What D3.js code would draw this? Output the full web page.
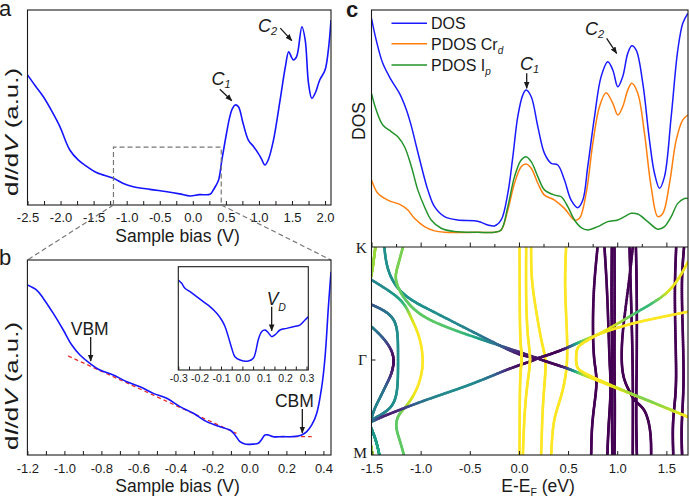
<!DOCTYPE html>
<html><head><meta charset="utf-8">
<script src="https://cdn.jsdelivr.net/npm/d3@7"></script>
<style>body{margin:0;background:#fff}svg{display:block}</style>
</head><body><svg id="fig" width="690" height="498"></svg>
<script>
// ---------------- DATA ----------------
// panel a: full-range STS spectrum
const aBias=[-2.5,-2.38,-2.26,-2.13,-2.01,-1.86,-1.73,-1.60,-1.45,-1.20,-1.05,-0.90,-0.65,-0.39,-0.2,-0.04,0.1,0.26,0.31,0.35,0.39,0.44,0.51,0.56,0.60,0.64,0.69,0.76,0.84,0.92,0.99,1.04,1.09,1.14,1.22,1.32,1.40,1.45,1.49,1.52,1.57,1.65,1.70,1.75,1.80,1.85,1.92,2.00,2.05,2.09];
const aDidv=[66.7,61,55.5,48,40.2,28.2,23,19.7,16.5,13.7,11,9.4,8.0,6.8,5.7,4.6,5.3,5.5,7.7,10,12.8,23.1,36.8,45.3,49.5,51.3,50.4,41.9,33.3,29.9,26.5,23.5,20.5,23.1,33.3,53.8,70.9,78.6,76,74.4,76.1,91.4,84.6,62.4,54.7,57.3,64.1,69.2,79.5,94.9];
const aTicks=[-2.5,-2,-1.5,-1,-0.5,0,0.5,1,1.5,2];
const aMinor=[-2.25,-1.75,-1.25,-0.75,-0.25,0.25,0.75,1.25,1.75];
const zoomBox=[-1.2,0.43,29.7];
// panel b: zoomed STS
const bBias=[-1.2,-1.15,-1.114,-1.06,-1.006,-0.96,-0.916,-0.862,-0.808,-0.736,-0.663,-0.591,-0.519,-0.447,-0.375,-0.303,-0.231,-0.159,-0.105,-0.078,-0.051,-0.024,0.021,0.048,0.066,0.084,0.102,0.129,0.183,0.237,0.283,0.31,0.337,0.364,0.391,0.409,0.427,0.441];
const bDidv=[87.2,84.6,80.3,72.6,64.1,56.4,51.3,47.0,43.6,41.0,37.6,35.0,31.6,29.1,24.8,21.4,17.1,14.5,12.8,10.3,6.8,5.6,5.6,6.0,8.0,10.3,10.3,9.4,9.4,9.4,10.3,12.0,15.4,21.4,35.0,50.4,76.1,94.0];
const bTicks=[-1.2,-1.0,-0.8,-0.6,-0.4,-0.2,0,0.2,0.4];
const bMinor=[-1.1,-0.9,-0.7,-0.5,-0.3,-0.1,0.1,0.3];
const fitVbmBias=[-0.98,-0.07], fitVbmDidv=[50.8,11.1];
const fitCbmBias=[0.128,0.337], fitCbmDidv=[9.4,9.4];
const vbmPoint=[-0.858,47.7], cbmPoint=[0.286,10.8];
// inset
const iBias=[-0.3,-0.284,-0.269,-0.245,-0.214,-0.183,-0.152,-0.120,-0.097,-0.081,-0.066,-0.050,-0.035,-0.011,0.028,0.051,0.064,0.074,0.090,0.106,0.121,0.137,0.152,0.176,0.207,0.238,0.269,0.293,0.308];
const iDidv=[87.1,83.9,79.1,75.8,71.0,66.1,61.3,54.9,48.4,41.9,32.3,21.0,12.9,9.7,8.7,11.3,19.4,29.0,37.1,38.7,36.1,32.3,33.9,38.7,40.3,41.9,43.5,48.4,51.6];
const iTicks=[-0.3,-0.2,-0.1,0,0.1,0.2,0.3];
const iMinor=[-0.25,-0.15,-0.05,0.05,0.15,0.25];
const vdPoint=[0.137,37.1];
// panel c: DOS
const dosE=[-1.5,-1.452,-1.385,-1.30,-1.215,-1.147,-1.096,-1.045,-0.994,-0.927,-0.859,-0.757,-0.622,-0.452,-0.384,-0.317,-0.249,-0.181,-0.113,-0.062,-0.012,0.039,0.073,0.125,0.192,0.260,0.328,0.395,0.463,0.531,0.599,0.650,0.700,0.769,0.836,0.904,0.955,1.006,1.056,1.107,1.148,1.193,1.26,1.328,1.379,1.430,1.481,1.549,1.616,1.667,1.718];
const dosVal=[96.5,87.3,77.5,70.5,64.8,58.1,51.2,42.7,34.3,24.1,17.0,12.8,11.4,11.1,10.4,9.3,8.9,11.4,22.7,38.1,55.0,64.1,66.2,63.4,50.8,39.5,35.3,34.6,28.3,19.8,16.6,19.8,33.9,55.0,71.9,78.2,74.7,67.6,71.9,81.7,84.9,83.1,69.1,45.1,31.1,24.8,29.7,55.0,83.1,94.4,98.6];
const crE=[-1.5,-1.436,-1.334,-1.198,-1.130,-1.063,-0.961,-0.859,-0.757,-0.418,-0.249,-0.181,-0.113,-0.045,0.023,0.073,0.125,0.192,0.260,0.362,0.463,0.565,0.616,0.684,0.752,0.819,0.887,0.955,1.006,1.056,1.107,1.148,1.209,1.277,1.345,1.413,1.464,1.532,1.600,1.667,1.718];
const crVal=[28.3,22.7,19.8,17.7,15.6,12.1,8.6,6.8,6.2,6.2,6.2,7.2,15.6,26.9,33.9,35.0,33.2,26.9,21.9,19.8,16.3,11.4,12.1,22.7,43.8,59.2,65.1,60.6,55.7,59.2,66.2,69.1,64.9,48.0,25.4,12.8,14.2,26.9,45.1,53.6,55.7];
const ipE=[-1.5,-1.452,-1.385,-1.30,-1.232,-1.164,-1.096,-1.029,-0.961,-0.893,-0.791,-0.656,-0.418,-0.249,-0.181,-0.113,-0.045,0.023,0.073,0.125,0.192,0.260,0.362,0.430,0.497,0.565,0.633,0.700,0.802,0.904,1.006,1.074,1.142,1.209,1.311,1.413,1.481,1.549,1.616,1.684,1.718];
const ipVal=[64.8,57.8,51.5,48.7,46.5,42.3,34.2,24.1,17.0,11.4,7.9,6.5,6.2,6.2,7.2,17.0,29.7,36.7,38.1,36.0,29.7,24.1,21.9,21.2,17.0,11.4,8.2,7.2,8.6,10.7,11.4,12.8,14.2,13.9,10.7,7.5,8.6,12.8,18.4,20.5,20.5];
const legendNames=["DOS","PDOS Cr","PDOS I"], legendSubs=["","d","p"];
const eTicks=[-1.5,-1,-0.5,0,0.5,1,1.5];
const eMinor=[-1.25,-0.75,-0.25,0.25,0.75,1.25];
const c1Point=[0.079,67.0], c2Point=[0.994,81.7];
const aC1Point=[0.59,53.5], aC2Point=[1.497,84.3];
// band structure: each band = list of [k (0=K,1=Γ,2=M), E (eV), projection weight]
const kLabels=["K","Γ","M"], kPos=[0,1,2];
const bands=[
 [[0,-1.46,0.85],[0.1,-1.475,0.85],[0.2,-1.49,0.85],[0.28,-1.51,0.85]],
 [[2.0,-1.42,0.6],[1.9,-1.44,0.6],[1.8,-1.47,0.55],[1.7,-1.51,0.5]],
 [[2.0,-1.49,0.85],[1.88,-1.51,0.85]],
 [[0.51,-1.5,0.25],[0.56,-1.37,0.35],[0.63,-1.27,0.45],[0.75,-1.23,0.5],[0.985,-1.23,0.5],[1.3,-1.23,0.5],[1.47,-1.27,0.5],[1.56,-1.37,0.45],[1.63,-1.5,0.4]],
 [[0.705,-1.5,0.45],[0.81,-1.37,0.3],[0.93,-1.28,0.05],[1.035,-1.27,0.0],[1.16,-1.3,0.1],[1.26,-1.35,0.3],[1.37,-1.4,0.4],[1.51,-1.47,0.45],[1.61,-1.5,0.45]],
 [[0.29,-1.5,0.45],[0.425,-1.25,0.5],[0.52,-1.15,0.7],[0.63,-1.096,0.95],[0.78,-1.012,1],[0.99,-0.968,1],[1.19,-0.995,1],[1.37,-1.063,1],[1.51,-1.164,0.85],[1.58,-1.232,0.75],[1.7,-1.26,0.75],[1.85,-1.21,0.75],[2.0,-1.17,0.75]],
 [[0,-1.37,0.5],[0.16,-1.35,0.5],[0.3,-1.29,0.5],[0.4,-1.2,0.5],[0.48,-1.08,0.5],[0.56,-0.9,0.5],[0.76,-0.45,0.45],[0.87,-0.2,0.3],[0.96,0.01,0.0],[0.985,0.19,0.05]],
 [[0,-1.18,0.8],[0.16,-1.23,0.8],[0.28,-1.27,0.8],[0.42,-1.2,0.75],[0.55,-1.08,0.75],[0.66,-0.9,0.75],[0.8,-0.45,0.7],[0.91,-0.06,0.1],[0.985,0.19,0.05]],
 [[1.65,-1.5,0.45],[1.6,-1.4,0.05],[1.52,-1.2,0.1],[1.42,-0.95,0.45],[1.3,-0.6,0.5],[1.18,-0.3,0.45],[1.09,-0.1,0.05],[1.03,0.08,0.0],[0.985,0.19,0.05]],
 [[0,0.006,1],[0.5,0.008,1],[0.85,0.012,1],[0.985,0.035,1],[1.12,0.012,1],[1.5,0.008,1],[2.0,0.006,1]],
 [[0,0.074,1],[0.4,0.07,1],[0.8,0.085,1],[0.985,0.125,1],[1.2,0.09,1],[1.55,0.055,1],[2.0,0.04,1]],
 [[0,0.124,1],[0.28,0.124,1],[0.57,0.175,1],[0.87,0.235,1],[0.985,0.277,1],[1.2,0.265,1],[1.5,0.24,1],[2.0,0.226,1]],
 [[0,0.48,1],[0.3,0.465,1],[0.6,0.48,1],[0.985,0.5,1],[1.26,0.463,1],[1.45,0.41,1],[1.65,0.345,1],[2.0,0.328,1]],
 [[0,0.8,0],[0.35,0.76,0],[0.7,0.75,0],[1.0,0.76,0],[1.2,0.8,0],[1.45,0.77,0],[1.7,0.74,0],[2,0.735,0]],
 [[0,0.87,0],[0.4,0.9,0],[1.0,0.92,0],[1.3,0.94,0],[1.7,0.91,0],[2.0,0.9,0]],
 [[0,0.945,0],[0.5,0.94,0],[1.0,0.95,0],[1.5,0.945,0],[2.0,0.95,0]],
 [[0,0.972,0],[0.5,0.975,0],[1.0,0.97,0],[1.5,0.978,0],[2.0,0.972,0]],
 [[0,1.158,0],[0.28,1.125,0],[0.72,1.056,0],[0.96,1.04,0],[1.19,1.056,0],[1.33,1.125,0],[1.44,1.176,0],[1.51,1.29,0],[1.76,1.345,0],[2.0,1.345,0]],
 [[0,1.125,0],[0.5,1.142,0],[1.0,1.158,0],[1.5,1.16,0],[2.0,1.158,0]],
 [[0,1.19,0],[0.4,1.2,0],[1.0,1.2,0],[1.6,1.19,0],[2.0,1.2,0]],
 [[0,1.6,0],[0.4,1.58,0],[1.0,1.6,0],[1.35,1.6,0],[1.65,1.56,0],[2.0,1.57,0]],
 [[0,1.68,0],[0.3,1.65,0],[0.8,1.67,0],[1.3,1.68,0],[1.7,1.65,0],[2.0,1.66,0]],
 [[0.985,0.19,0.05],[0.94,0.35,0.0],[0.89,0.5,0.0],[0.84,0.616,0.9],[0.72,0.955,1],[0.646,1.295,1],[0.573,1.72,1]],
 [[0.985,0.19,0.05],[1.04,0.35,0.0],[1.09,0.5,0.05],[1.14,0.616,1],[1.28,0.955,1],[1.42,1.295,1],[1.6,1.72,1]],
 [[0.13,1.72,1],[0.277,1.633,0.95],[0.425,1.498,1],[0.528,1.295,0.5],[0.705,0.955,1],[0.84,0.66,1],[0.89,0.585,1],[0.985,0.58,1],[1.08,0.585,1],[1.13,0.64,1],[1.28,0.965,1],[1.42,1.3,0.7],[1.6,1.725,1]]
];

// ---------------- DRAWING ----------------
const FONT='"Liberation Sans", Arial, Helvetica, sans-serif';
const SERIF='"Liberation Serif","Times New Roman",serif';
const INK='#1a1a1a';
const svg=d3.select('#fig');
const defs=svg.append('defs');
defs.append('marker').attr('id','arr').attr('viewBox','0 0 10 10').attr('refX',9).attr('refY',5)
  .attr('markerUnits','userSpaceOnUse').attr('markerWidth',7).attr('markerHeight',7).attr('orient','auto')
  .append('path').attr('d','M0,1 L10,5 L0,9 Z').attr('fill',INK);
function clip(id,x0,y0,x1,y1){defs.append('clipPath').attr('id',id).append('rect').attr('x',x0).attr('y',y0).attr('width',x1-x0).attr('height',y1-y0);}

function axisB(scale,y,ticks,minor,o){
  if(minor){const gm=svg.append('g').attr('transform',`translate(0,${y})`)
    .call(d3.axisBottom(scale).tickValues(minor).tickSizeInner(-o.minorLen).tickSizeOuter(0).tickFormat(''));
    gm.select('.domain').remove(); gm.selectAll('text').remove(); gm.selectAll('line').attr('stroke',INK);}
  const g=svg.append('g').attr('transform',`translate(0,${y})`)
    .call(d3.axisBottom(scale).tickValues(ticks).tickSizeInner(-o.majorLen).tickSizeOuter(0).tickPadding(o.pad)
      .tickFormat(o.noLabels?'':(d=>d.toFixed(1))));
  g.select('.domain').remove();
  g.selectAll('line').attr('stroke',INK);
  if(o.noLabels) g.selectAll('text').remove();
  else g.selectAll('text').attr('font-size',o.fs).attr('font-family',FONT).attr('fill',INK);
  return g;
}
function frame(x0,y0,x1,y1){svg.append('rect').attr('x',x0).attr('y',y0).attr('width',x1-x0).attr('height',y1-y0)
  .attr('fill','none').attr('stroke',INK).attr('stroke-width',1.1);}
function arrow(x1,y1,x2,y2){svg.append('line').attr('x1',x1).attr('y1',y1).attr('x2',x2).attr('y2',y2)
  .attr('stroke',INK).attr('stroke-width',1.3).attr('marker-end','url(#arr)');}
function cLabel(x,y,sub){const t=svg.append('text').attr('x',x).attr('y',y).attr('font-family',FONT)
  .attr('font-size',18).attr('font-style','italic').attr('fill',INK);
  t.append('tspan').text('C'); t.append('tspan').attr('font-size',11).attr('dy',3).text(sub);}
function yLabel(bx,cy){const t=svg.append('text').attr('transform',`translate(${bx},${cy}) rotate(-90)`)
  .attr('text-anchor','middle').attr('font-family',FONT).attr('font-size',17.5).attr('fill',INK)
  .attr('textLength',128).attr('lengthAdjust','spacingAndGlyphs');
  t.append('tspan').text('d'); t.append('tspan').attr('font-style','italic').text('I');
  t.append('tspan').text('/d'); t.append('tspan').attr('font-style','italic').text('V');
  t.append('tspan').text(' (a.u.)');}
function title(cx,y,txt){svg.append('text').attr('x',cx).attr('y',y).attr('text-anchor','middle')
  .attr('font-family',FONT).attr('font-size',17.5).attr('fill',INK).text(txt);}
const lineG=(x,y)=>d3.line().x((d,i)=>x(d[0])).y(d=>y(d[1])).curve(d3.curveCatmullRom.alpha(0.5));

// ---- panel a ----
const xA=d3.scaleLinear().domain([-2.5,2.09]).range([27.5,331]);
const yA=d3.scaleLinear().domain([0,100]).range([205,10]);
clip('clipA',27.5,10,331,205);
svg.append('path').datum(d3.zip(aBias,aDidv)).attr('d',lineG(xA,yA)).attr('fill','none')
  .attr('stroke','#1515ff').attr('stroke-width',1.6).attr('clip-path','url(#clipA)');
axisB(xA,205,aTicks,aMinor,{majorLen:4,minorLen:4,pad:7.5,fs:13});
frame(27.5,10,331,205);
// zoom box & connectors
const zx0=xA(zoomBox[0]), zx1=xA(zoomBox[1]), zyT=yA(zoomBox[2]), zyB=yA(0);
svg.append('path').attr('d',`M${zx0},${zyB}L${zx0},${zyT}L${zx1},${zyT}L${zx1},${zyB}`)
  .attr('fill','none').attr('stroke','#777').attr('stroke-width',1.2).attr('stroke-dasharray','5,3');
// ---- panel b ----
const xB=d3.scaleLinear().domain([-1.2,0.441]).range([27.4,331]);
const yB=d3.scaleLinear().domain([0,100]).range([455,260]);
[[zx0,27.4],[zx1,331]].forEach(([a,b])=>svg.append('line').attr('x1',a).attr('y1',zyB).attr('x2',b).attr('y2',260)
  .attr('stroke','#777').attr('stroke-width',1.2).attr('stroke-dasharray','5,3'));
clip('clipB',27.4,260,331,455);
svg.append('path').datum(d3.zip(fitVbmBias,fitVbmDidv)).attr('d',d3.line().x(d=>xB(d[0])).y(d=>yB(d[1])))
  .attr('stroke','#e8302a').attr('stroke-width',1.3).attr('stroke-dasharray','4,3').attr('fill','none');
svg.append('path').datum(d3.zip(fitCbmBias,fitCbmDidv)).attr('d',d3.line().x(d=>xB(d[0])).y(d=>yB(d[1])))
  .attr('stroke','#e8302a').attr('stroke-width',1.3).attr('stroke-dasharray','4,3').attr('fill','none');
svg.append('path').datum(d3.zip(bBias,bDidv)).attr('d',lineG(xB,yB)).attr('fill','none')
  .attr('stroke','#1515ff').attr('stroke-width',1.6).attr('clip-path','url(#clipB)');
axisB(xB,455,bTicks,bMinor,{majorLen:4,minorLen:4,pad:8.5,fs:13});
frame(27.4,260,331,455);
// VBM / CBM
{const tx=xB(vbmPoint[0]), ty=yB(vbmPoint[1]); arrow(tx,ty-25,tx,ty-1);
 svg.append('text').attr('x',tx-1).attr('y',ty-27).attr('text-anchor','middle').attr('font-family',FONT).attr('font-size',17.5).attr('fill',INK).text('VBM');}
{const tx=xB(cbmPoint[0]), ty=yB(cbmPoint[1]); arrow(tx,ty-25,tx,ty-1);
 svg.append('text').attr('x',tx-8).attr('y',ty-27).attr('text-anchor','middle').attr('font-family',FONT).attr('font-size',17.5).attr('fill',INK).text('CBM');}
// inset
const xI=d3.scaleLinear().domain([-0.3,0.3]).range([178.3,306.5]);
const yI=d3.scaleLinear().domain([0,100]).range([370,266.7]);
svg.append('rect').attr('x',178.3).attr('y',266.7).attr('width',130).attr('height',103.3).attr('fill','#fff');
clip('clipI',178.3,266.7,308.3,370);
svg.append('path').datum(d3.zip(iBias,iDidv)).attr('d',lineG(xI,yI)).attr('fill','none')
  .attr('stroke','#1515ff').attr('stroke-width',1.5).attr('clip-path','url(#clipI)');
axisB(xI,370,iTicks,iMinor,{majorLen:3.5,minorLen:3.5,pad:4.5,fs:10.5});
frame(178.3,266.7,308.3,370);
{const tx=xI(vdPoint[0]), ty=yI(vdPoint[1]); arrow(tx,ty-25,tx,ty-1);
 const t=svg.append('text').attr('x',tx-5).attr('y',ty-26.5).attr('font-family',FONT).attr('font-size',17.5).attr('font-style','italic').attr('fill',INK);
 t.append('tspan').text('V'); t.append('tspan').attr('font-size',10.5).attr('dy',6).text('D');}
yLabel(17.5,132); yLabel(17.5,386);
title(177.5,242,'Sample bias (V)'); title(177.5,492,'Sample bias (V)');
cLabel(211.5,85,'1'); cLabel(258,31.7,'2');
{const tx=xA(aC1Point[0]),ty=yA(aC1Point[1]); arrow(tx-12,ty-11.5,tx,ty);}
{const tx=xA(aC2Point[0]),ty=yA(aC2Point[1]); arrow(tx-11.5,ty-12.5,tx,ty);}

// ---- panel c ----
const xC=d3.scaleLinear().domain([-1.5,1.72]).range([371.5,688]);
const yC=d3.scaleLinear().domain([0,100]).range([247,10]);
clip('clipC',371.5,10,688,247);
const dosSeries=[[crE,crVal,'#ff7f0e'],[ipE,ipVal,'#23932b'],[dosE,dosVal,'#1a1aff']];
dosSeries.forEach(([e,v,c])=>svg.append('path').datum(d3.zip(e,v)).attr('d',lineG(xC,yC)).attr('fill','none')
  .attr('stroke',c).attr('stroke-width',1.5).attr('clip-path','url(#clipC)'));
// legend
const legColors=['#1a1aff','#ff7f0e','#23932b'], legY=[23.3,43.8,65];
legendNames.forEach((n,i)=>{
  svg.append('line').attr('x1',391.5).attr('x2',427).attr('y1',legY[i]).attr('y2',legY[i]).attr('stroke',legColors[i]).attr('stroke-width',1.5);
  const t=svg.append('text').attr('x',431).attr('y',legY[i]+6).attr('font-family',FONT).attr('font-size',16).attr('fill',INK);
  t.append('tspan').text(n);
  if(legendSubs[i]) t.append('tspan').attr('font-size',10).attr('font-style','italic').attr('dy',4).text(legendSubs[i]);
});
cLabel(520,70,'1'); cLabel(585,35,'2');
{const tx=xC(c1Point[0]),ty=yC(c1Point[1]); arrow(tx,ty-15,tx,ty);}
{const tx=xC(c2Point[0]),ty=yC(c2Point[1]); arrow(tx-10,ty-15,tx,ty);}
svg.append('text').attr('transform','translate(365,121) rotate(-90)').attr('text-anchor','middle')
  .attr('font-family',FONT).attr('font-size',17.5).attr('fill',INK).text('DOS');
// bands
const kS=d3.scaleLinear().domain(kPos).range([247,360,455]);
clip('clipBand',371.5,247,688,455);
const gB=svg.append('g').attr('clip-path','url(#clipBand)');
bands.forEach(b=>{
  const fk=d3.interpolateBasis(b.map(p=>p[0])), fe=d3.interpolateBasis(b.map(p=>p[1])), fc=d3.interpolateBasis(b.map(p=>p[2]));
  const N=120, pts=d3.range(N+1).map(i=>[xC(fe(i/N)),kS(fk(i/N)),fc(i/N)]);
  for(let i=0;i<N;i++){
    const c=Math.max(0,Math.min(1,(pts[i][2]+pts[i+1][2])/2));
    gB.append('line').attr('x1',pts[i][0]).attr('y1',pts[i][1]).attr('x2',pts[i+1][0]).attr('y2',pts[i+1][1])
      .attr('stroke',d3.interpolateViridis(c)).attr('stroke-width',2.6).attr('stroke-linecap','round');
  }
});
axisB(xC,247,eTicks,eMinor,{majorLen:4.5,minorLen:3,pad:4,fs:13,noLabels:true});
axisB(xC,455,eTicks,null,{majorLen:4,minorLen:0,pad:8.5,fs:13});
svg.append('line').attr('x1',371.5).attr('x2',375.5).attr('y1',kS(1)).attr('y2',kS(1)).attr('stroke',INK);
frame(371.5,10,688,455);
svg.append('line').attr('x1',371.5).attr('x2',688).attr('y1',247).attr('y2',247).attr('stroke',INK).attr('stroke-width',1.1);
kLabels.forEach((l,i)=>svg.append('text').attr('x',367).attr('y',kS(kPos[i])+(i===0?5.5:i===1?5:3)).attr('text-anchor','end')
  .attr('font-family',SERIF).attr('font-size',15.5).attr('fill',INK).text(l));
{const t=svg.append('text').attr('x',538).attr('y',492).attr('text-anchor','middle').attr('font-family',FONT).attr('font-size',17.5).attr('fill',INK);
 t.append('tspan').text('E-E'); t.append('tspan').attr('font-size',10.5).attr('dy',3.5).text('F'); t.append('tspan').attr('dy',-3.5).text(' (eV)');}
// panel letters
[['a',-1,16,'normal'],['b',-1,265,'normal'],['c',346,17,'bold']].forEach(([l,x,y,w])=>
  svg.append('text').attr('x',x).attr('y',y).attr('font-family',FONT).attr('font-size',22).attr('font-weight',w).attr('fill',INK).text(l));
</script></body></html>
